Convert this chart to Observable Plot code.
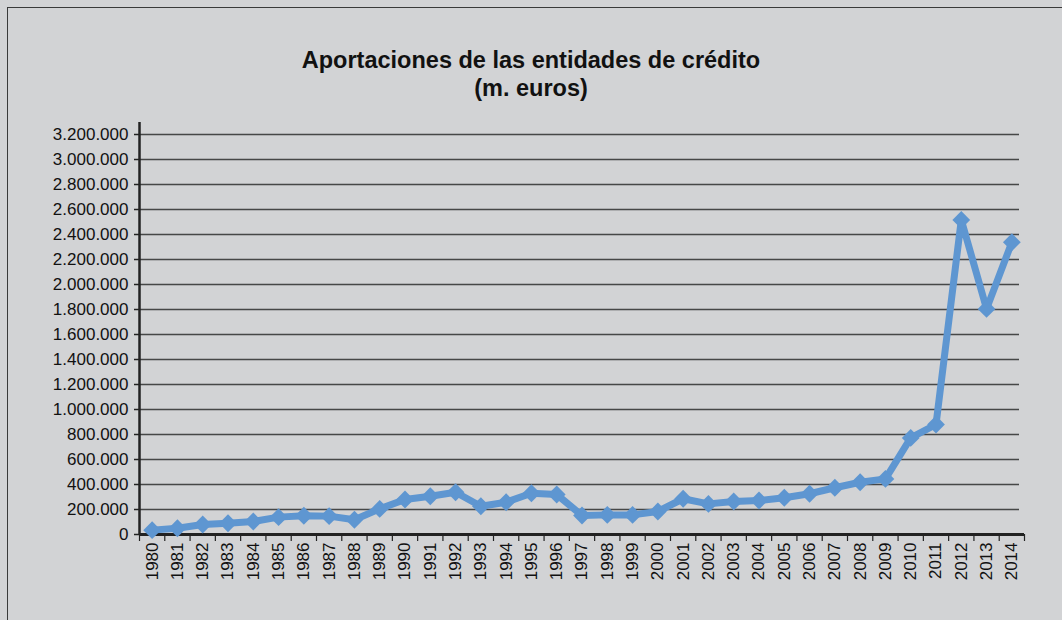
<!DOCTYPE html>
<html>
<head>
<meta charset="utf-8">
<script src="https://cdn.jsdelivr.net/npm/d3@7"></script>
<script src="https://cdn.jsdelivr.net/npm/@observablehq/plot@0.6"></script>
<style>
  body { margin: 0; background: #d2d3d5; font-family: "Liberation Sans", Arial, sans-serif; }
  #wrap { position: relative; width: 1062px; height: 620px; overflow: hidden; background: #d2d3d5; }
  #frame { position: absolute; left: 7px; top: 7px; width: 1060px; height: 640px; border: 1.5px solid #3a3a3a; box-sizing: border-box; }
  #title { position: absolute; top: 46px; left: 0; width: 1062px; text-align: center; font-weight: bold; font-size: 23.5px; line-height: 28px; color: #111; }
  #chart { position: absolute; left: 0; top: 0; }
</style>
</head>
<body>
<div id="wrap">
  <div id="frame"></div>
  <div id="chart"></div>
  <div id="title">Aportaciones de las entidades de crédito<br>(m. euros)</div>
</div>
<script>
const years = [1980,1981,1982,1983,1984,1985,1986,1987,1988,1989,1990,1991,1992,1993,1994,1995,1996,1997,1998,1999,2000,2001,2002,2003,2004,2005,2006,2007,2008,2009,2010,2011,2012,2013,2014];
const values = [35000,50000,80000,90000,104000,139000,150000,147000,118000,205000,280000,306000,338000,226000,258000,330000,320000,152000,157000,157000,184000,286000,245000,264000,272000,294000,326000,374000,418000,445000,773000,880000,2517000,1805000,2338000];
const yTicks = [0,200000,400000,600000,800000,1000000,1200000,1400000,1600000,1800000,2000000,2200000,2400000,2600000,2800000,3000000,3200000];

const data = years.map((y, i) => ({year: y, value: values[i]}));
const boundaries = years.map(y => y - 0.5).concat([years[years.length - 1] + 0.5]);
const fmt = d3.formatLocale({decimal: ",", thousands: ".", grouping: [3], currency: ["", "€"]}).format(",d");
const color = "#5e96d1";

const chart = Plot.plot({
  width: 1062,
  height: 620,
  marginLeft: 139,
  marginRight: 38,
  marginTop: 134,
  marginBottom: 86,
  style: {background: "transparent", fontFamily: "'Liberation Sans', Arial, sans-serif", fontSize: "17px", color: "#111"},
  x: {domain: [years[0] - 0.5, years[years.length - 1] + 0.5]},
  y: {domain: [0, yTicks[yTicks.length - 1]]},
  marks: [
    Plot.gridY(yTicks.slice(1), {stroke: "#2e2e2e", strokeOpacity: 0.85, strokeWidth: 1.4, insetRight: 5}),
    Plot.axisY({ticks: yTicks, tickFormat: fmt, tickSize: 5, tickPadding: 6, stroke: "#222", strokeWidth: 1.5, label: null, fontSize: 17}),
    Plot.axisX({ticks: boundaries, tickSize: 7, tickFormat: () => "", stroke: "#222", strokeWidth: 1.2, label: null}),
    Plot.axisX({ticks: years, tickSize: 0, tickPadding: 8, tickRotate: -90, tickFormat: d => String(d), label: null, fontSize: 17}),
    Plot.ruleX([years[0] - 0.5], {stroke: "#222", strokeWidth: 2.5, insetTop: -12}),
    Plot.ruleY([0], {stroke: "#222", strokeWidth: 3}),
    Plot.line(data, {x: "year", y: "value", stroke: color, strokeWidth: 7, strokeLinejoin: "round"}),
    Plot.dot(data, {x: "year", y: "value", symbol: "diamond2", r: 8, fill: color, stroke: "none"})
  ]
});
document.getElementById("chart").appendChild(chart);
</script>
</body>
</html>
